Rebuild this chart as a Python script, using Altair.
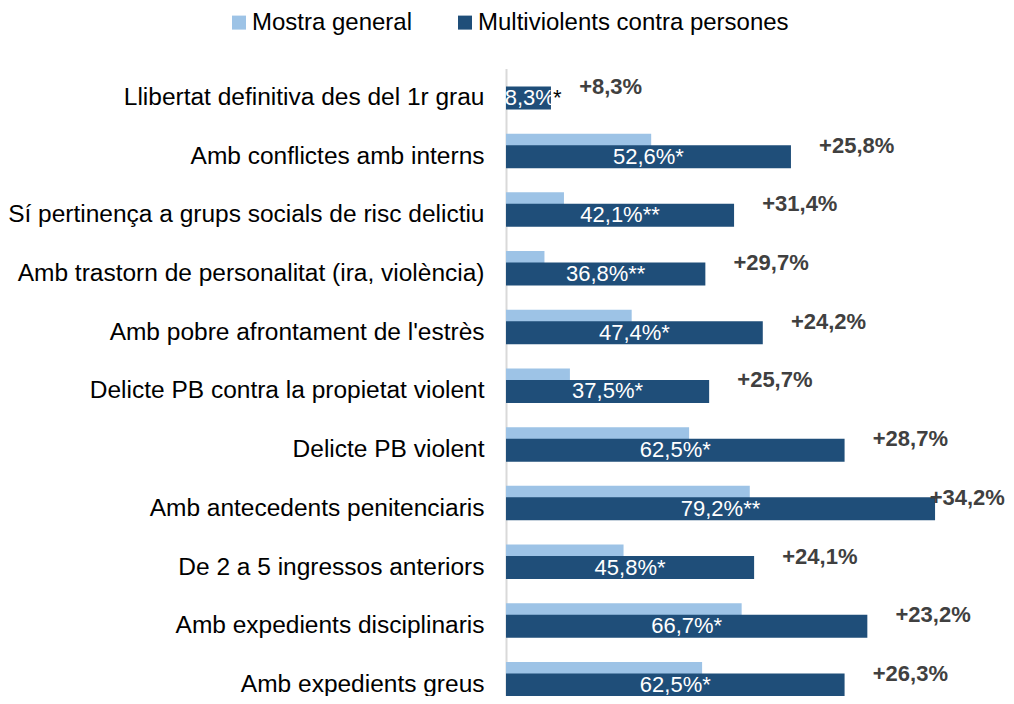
import altair as alt
import pandas as pd

categories = [
    "Llibertat definitiva des del 1r grau",
    "Amb conflictes amb interns",
    "Sí pertinença a grups socials de risc delictiu",
    "Amb trastorn de personalitat (ira, violència)",
    "Amb pobre afrontament de l'estrès",
    "Delicte PB contra la propietat violent",
    "Delicte PB violent",
    "Amb antecedents penitenciaris",
    "De 2 a 5 ingressos anteriors",
    "Amb expedients disciplinaris",
    "Amb expedients greus",
]
general = [0.0, 26.8, 10.7, 7.1, 23.2, 11.8, 33.8, 45.0, 21.7, 43.5, 36.2]
multi = [8.3, 52.6, 42.1, 36.8, 47.4, 37.5, 62.5, 79.2, 45.8, 66.7, 62.5]
value_labels = ["8,3%", "52,6%*", "42,1%**", "36,8%**", "47,4%*", "37,5%*",
                "62,5%*", "79,2%**", "45,8%*", "66,7%*", "62,5%*"]
outside_marks = ["*", "", "", "", "", "", "", "", "", "", ""]
diff_labels = ["+8,3%", "+25,8%", "+31,4%", "+29,7%", "+24,2%", "+25,7%",
               "+28,7%", "+34,2%", "+24,1%", "+23,2%", "+26,3%"]
series_names = ["Mostra general", "Multiviolents contra persones"]
series_colors = ["#9DC3E6", "#1F4E79"]

FONT = "Liberation Sans"

long_df = pd.DataFrame(
    [{"cat": c, "series": series_names[0], "value": g} for c, g in zip(categories, general)]
    + [{"cat": c, "series": series_names[1], "value": m} for c, m in zip(categories, multi)]
)
lab_df = pd.DataFrame({
    "cat": categories, "multi": multi, "vlabel": value_labels,
    "star": outside_marks, "diff": diff_labels,
})

y_enc = alt.Y("cat:N", sort=categories, title=None,
              axis=alt.Axis(labelFontSize=24.5, labelColor="black", labelFont=FONT,
                            ticks=False, domainColor="#D9D9D9", domainWidth=2,
                            labelPadding=22, labelLimit=0, grid=False))
x_scale = alt.Scale(domain=[0, 80], nice=False)
color_enc = alt.Color("series:N",
                      scale=alt.Scale(domain=series_names, range=series_colors),
                      legend=alt.Legend(orient="none", legendX=-279, legendY=-58,
                                        direction="horizontal", title=None,
                                        symbolType="square", symbolSize=196,
                                        symbolStrokeWidth=0, labelFontSize=24,
                                        labelFont=FONT, labelColor="black",
                                        labelLimit=0, labelOffset=1, columnPadding=40))

base = alt.Chart(long_df)
light = base.transform_filter(alt.datum.series == series_names[0]).mark_bar(
    height=23, yOffset=-11.5).encode(
    x=alt.X("value:Q", scale=x_scale, axis=None), y=y_enc, color=color_enc)
dark = base.transform_filter(alt.datum.series == series_names[1]).mark_bar(
    height=23).encode(
    x=alt.X("value:Q", scale=x_scale, axis=None), y=y_enc, color=color_enc)

lab = alt.Chart(lab_df)
vtext = lab.transform_calculate(mid="max(datum.multi / 2, 4.4)").mark_text(
    font=FONT, fontSize=22, color="white", align="center", baseline="middle").encode(
    x=alt.X("mid:Q", scale=x_scale, axis=None), y=y_enc, text="vlabel:N")
stext = lab.mark_text(
    font=FONT, fontSize=22, color="#000000", align="left", baseline="middle", dx=2).encode(
    x=alt.X("multi:Q", scale=x_scale, axis=None), y=y_enc, text="star:N")
dtext = lab.transform_calculate(lx="min(datum.multi + 5.2, 78.2)").mark_text(
    font=FONT, fontSize=22, fontWeight="bold", color="#404040", align="left",
    baseline="middle", dy=-11).encode(
    x=alt.X("lx:Q", scale=x_scale, axis=None), y=y_enc, text="diff:N")

chart = alt.layer(light, dark, vtext, stext, dtext).properties(
    width=433.4, height=645.7,
    autosize=alt.AutoSizeParams(type="none"),
    padding={"left": 498, "top": 60.6, "right": 66.5, "bottom": -18.5},
).configure(font=FONT).configure_view(strokeWidth=0, stroke=None)

chart.save("out.html", embed_options={"renderer": "svg", "actions": False})
